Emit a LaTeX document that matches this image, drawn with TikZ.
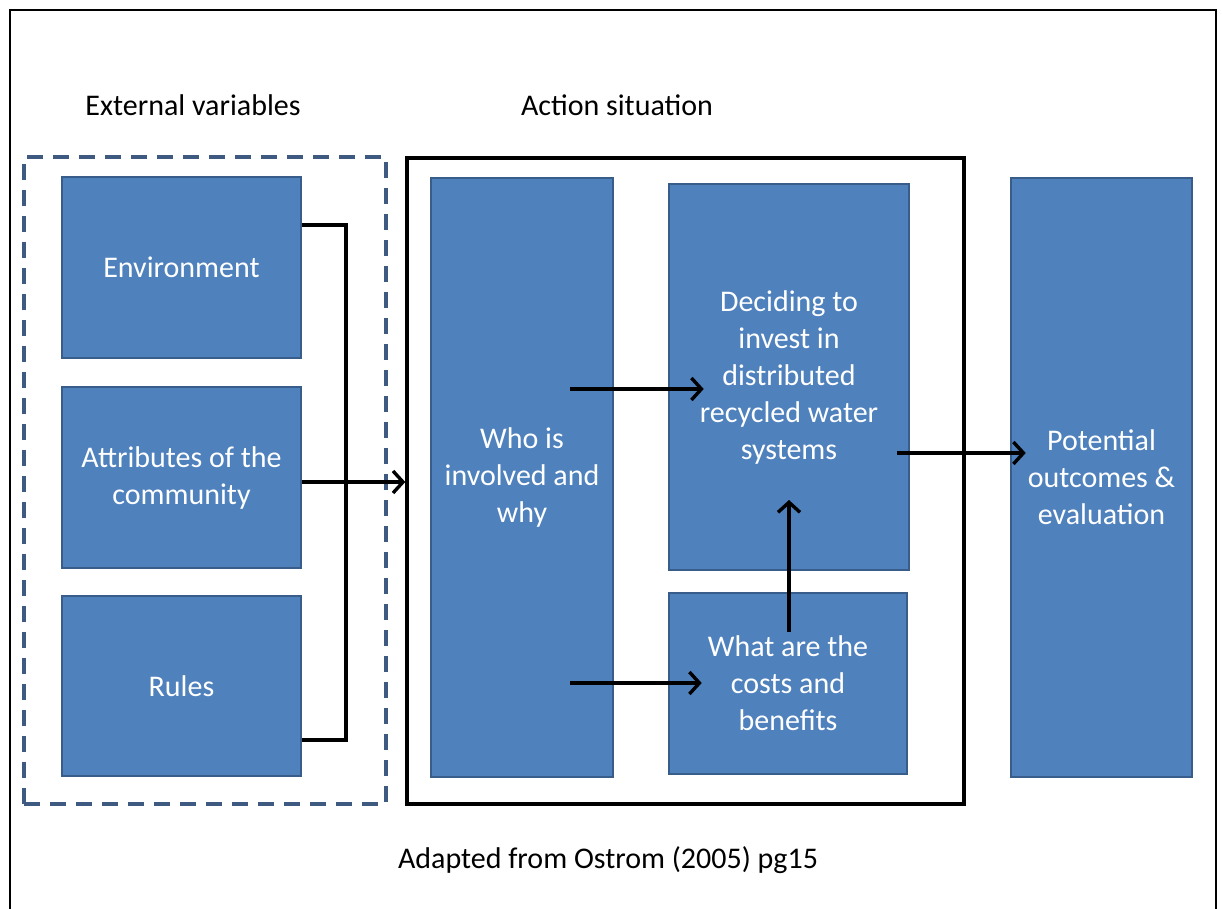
\documentclass[tikz,border=0pt]{standalone}
\usepackage{fontspec}
\setmainfont{Carlito}
\usetikzlibrary{arrows.meta,calc}
\definecolor{boxfill}{HTML}{4F81BD}
\definecolor{boxline}{HTML}{385D8A}
\definecolor{dashline}{HTML}{3E5A80}
\tikzset{
  box/.style={draw=boxline, line width=2.6pt, fill=boxfill, text=white,
    align=center, inner sep=0pt,
    font=\fontsize{30}{37}\selectfont},
  title/.style={font=\fontsize{30}{37}\selectfont, text=black, inner sep=0pt},
  link/.style={draw=black, line width=3.4pt},
  arr/.style={link, -{Straight Barb[length=10pt, width=22pt, line width=3.4pt]}},
}
\begin{document}
\begin{tikzpicture}[x=1pt, y=-1pt]
  \useasboundingbox (0,0) rectangle (1222,909);
  \fill[white] (0,0) rectangle (1222,909);
  % outer frame, open at the bottom edge of the page
  \draw[line width=2.8pt] (10,930) -- (10,10) -- (1216,10) -- (1216,930);

  % headings
  \node[title] (hext) at (193,105) {External variables};
  \node[title] (hact) at (617,105) {Action situation};

  % external variables group
  \node[draw=dashline, line width=3.6pt, dash pattern=on 16pt off 10pt,
        minimum width=362pt, minimum height=647pt] (ext) at (205,480.5) {};
  \node[box, minimum width=239pt, minimum height=181pt] (env)   at (181.5,267.5) {Environment};
  \node[box, minimum width=239pt, minimum height=181pt] (attr)  at (181.5,477.5) {Attributes of the\\community};
  \node[box, minimum width=239pt, minimum height=180pt] (rules) at (181.5,686)   {Rules};

  % action situation group
  \node[draw=black, line width=3.4pt, minimum width=557pt, minimum height=646pt] (act) at (685.5,481) {};
  \node[box, minimum width=182pt, minimum height=599pt] (who)  at (522,477.5) {Who is\\involved and\\why};
  \node[box, minimum width=240pt, minimum height=386pt] (dec)  at (789,377)   {Deciding to\\invest in\\distributed\\recycled water\\systems};
  \node[box, minimum width=238pt, minimum height=181pt] (what) at (788,683.5) {What are the\\costs and\\benefits};

  % outcomes
  \node[box, minimum width=181pt, minimum height=599pt] (pot) at (1101.5,477.5) {Potential\\outcomes \&\\evaluation};

  % bracket joining the external variables
  \coordinate (jt) at (346,225);
  \coordinate (jb) at (346,740);
  \draw[link] (jt -| env.east) -- (jt) -- (jb) -- (jb -| rules.east);
  \draw[arr] (attr.east |- 0,482) -- (act.west |- 0,482);

  % flows inside the action situation
  \coordinate (w1) at (570,389);
  \coordinate (w2) at (570,683);
  \draw[arr] (w1) -- ($(w1 -| dec.west)+(36,0)$);
  \draw[arr] (w2) -- ($(w2 -| what.west)+(34,0)$);
  \coordinate (c1) at (789,632);
  \draw[arr] (c1) -- (c1 |- 0,500);
  \coordinate (d1) at (897,453);
  \draw[arr] (d1) -- ($(d1 -| pot.west)+(16,0)$);

  % source note
  \node[title] (src) at (608,860) {Adapted from Ostrom (2005) pg15};
\end{tikzpicture}
\end{document}
